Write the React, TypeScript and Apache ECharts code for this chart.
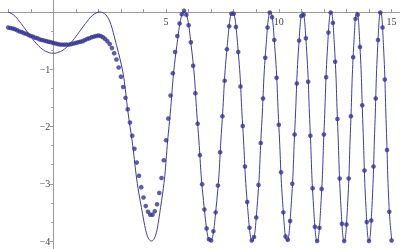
import React, { useEffect, useRef } from 'react';
import * as echarts from 'echarts';

// Solid curve (peaks at 0, troughs at -4)
const lineX = [
  -2, -1.75, -1.5, -1.25, -1, -0.75, -0.5, -0.25, 0, 0.25, 0.5, 0.75, 1, 1.25, 1.5, 1.75,
  2.049, 2.808, 3.402, 3.907, 4.353, 4.758, 5.131, 5.478,
  5.805, 6.115, 6.409, 6.691, 6.961, 7.221, 7.472, 7.714,
  7.95, 8.178, 8.401, 8.618, 8.829, 9.035, 9.237, 9.435,
  9.628, 9.818, 10.004, 10.186, 10.366, 10.542, 10.716, 10.886,
  11.054, 11.22, 11.383, 11.544, 11.703, 11.859, 12.014, 12.166,
  12.317, 12.466, 12.613, 12.758, 12.902, 13.044, 13.184, 13.323,
  13.461, 13.597, 13.732, 13.866, 13.998, 14.129, 14.259, 14.388,
  14.516, 14.642, 14.767, 14.892, 15.015,
];
const lineY = [
  0, -0.056, -0.165, -0.295, -0.43, -0.55, -0.645, -0.7, -0.72, -0.7, -0.645, -0.55, -0.43, -0.295, -0.165, -0.056,
  0, -0.586, -2, -3.414, -4, -3.414, -2, -0.586,
  0, -0.586, -2, -3.414, -4, -3.414, -2, -0.586,
  0, -0.586, -2, -3.414, -4, -3.414, -2, -0.586,
  0, -0.586, -2, -3.414, -4, -3.414, -2, -0.586,
  0, -0.586, -2, -3.414, -4, -3.414, -2, -0.586,
  0, -0.586, -2, -3.414, -4, -3.414, -2, -0.586,
  0, -0.586, -2, -3.414, -4, -3.414, -2, -0.586,
  0, -0.586, -2, -3.414, -4,
];

// Dots
const dotX = [
  -2.0, -1.9, -1.8, -1.7, -1.6, -1.5, -1.4, -1.3, -1.2, -1.1, -1.0,
  -0.9, -0.8, -0.7, -0.6, -0.5, -0.4, -0.3, -0.2, -0.1, 0.0,
  0.1, 0.2, 0.3, 0.4, 0.5, 0.6, 0.7, 0.8, 0.9, 1.0,
  1.1, 1.2, 1.3, 1.4, 1.5, 1.6, 1.7, 1.8, 1.9, 2.0,
  2.1, 2.2, 2.3, 2.4, 2.5, 2.6, 2.7, 2.8, 2.9, 3.0,
  3.1, 3.2, 3.3, 3.4, 3.5, 3.6, 3.7, 3.8, 3.9, 4.0,
  4.1, 4.2, 4.3, 4.4, 4.5, 4.6, 4.7, 4.8, 4.9, 5.0,
  5.1, 5.2, 5.3, 5.4, 5.5, 5.6, 5.7, 5.8, 5.9, 6.0,
  6.1, 6.2, 6.3, 6.4, 6.5, 6.6, 6.7, 6.8, 6.9, 7.0,
  7.1, 7.2, 7.3, 7.4, 7.5, 7.6, 7.7, 7.8, 7.9, 8.0,
  8.1, 8.2, 8.3, 8.4, 8.5, 8.6, 8.7, 8.8, 8.9, 9.0,
  9.1, 9.2, 9.3, 9.4, 9.5, 9.6, 9.7, 9.8, 9.9, 10.0,
  10.1, 10.2, 10.3, 10.4, 10.5, 10.6, 10.7, 10.8, 10.9, 11.0,
  11.1, 11.2, 11.3, 11.4, 11.5, 11.6, 11.7, 11.8, 11.9, 12.0,
  12.1, 12.2, 12.3, 12.4, 12.5, 12.6, 12.7, 12.8, 12.9, 13.0,
  13.1, 13.2, 13.3, 13.4, 13.5, 13.6, 13.7, 13.8, 13.9, 14.0,
  14.1, 14.2, 14.3, 14.4, 14.5, 14.6, 14.7, 14.8, 14.9, 15.0,
];
const dotY = [
  -0.27, -0.28, -0.29, -0.3, -0.32, -0.34, -0.35, -0.37, -0.38, -0.4, -0.42,
  -0.43, -0.45, -0.46, -0.48, -0.49, -0.5, -0.51, -0.52, -0.53, -0.54,
  -0.55, -0.56, -0.57, -0.57, -0.57, -0.57, -0.57, -0.56, -0.55, -0.54,
  -0.53, -0.52, -0.51, -0.49, -0.47, -0.46, -0.44, -0.43, -0.42, -0.41,
  -0.42, -0.44, -0.47, -0.51, -0.56, -0.63, -0.72, -0.83, -0.97, -1.13,
  -1.31, -1.5, -1.7, -1.93, -2.16, -2.39, -2.63, -2.86, -3.06, -3.24,
  -3.39, -3.49, -3.54, -3.54, -3.48, -3.36, -3.16, -2.9, -2.59, -2.24,
  -1.86, -1.46, -1.07, -0.7, -0.42, -0.2, -0.04, 0.02, -0.05, -0.23,
  -0.53, -0.94, -1.42, -1.95, -2.5, -3.01, -3.45, -3.78, -3.97, -3.99,
  -3.83, -3.5, -3.03, -2.45, -1.82, -1.2, -0.65, -0.25, -0.03, -0.03,
  -0.26, -0.7, -1.3, -1.99, -2.7, -3.32, -3.77, -3.99, -3.93, -3.59,
  -3.02, -2.29, -1.51, -0.8, -0.27, -0.01, -0.09, -0.49, -1.15, -1.97,
  -2.8, -3.5, -3.92, -3.98, -3.65, -3.0, -2.14, -1.25, -0.5, -0.07,
  -0.05, -0.46, -1.22, -2.16, -3.08, -3.75, -4.0, -3.77, -3.09, -2.14,
  -1.14, -0.36, -0.01, -0.19, -0.87, -1.87, -2.91, -3.7, -4.0, -3.71,
  -2.91, -1.82, -0.79, -0.12, -0.05, -0.61, -1.63, -2.77, -3.67, -4.0,
  -3.64, -2.7, -1.51, -0.49, -0.01, -0.27, -1.18, -2.41, -3.49, -3.99,
];

const xTickLabels = [5, 10, 15];
const yTickLabels: Record<number, string> = { [-1]: '−1', [-2]: '−2', [-3]: '−3', [-4]: '−4' };

const AXIS = '#9a9a9a';
const TEXT = '#444';
const CURVE = '#3d3d99';
const DOT = '#35358f';

export default function App() {
  const ref = useRef<HTMLDivElement>(null);
  useEffect(() => {
    const chart = echarts.init(ref.current!, null, { renderer: 'svg' });
    const lineData = lineX.map((x, i) => [x, lineY[i]]);
    const dotData = dotX.map((x, i) => [x, dotY[i]]);
    chart.setOption({
      animation: false,
      grid: { left: 5.65, right: 5.9, top: 4.75, bottom: 1.75, containLabel: false },
      xAxis: {
        type: 'value',
        position: 'top',
        offset: -57.25, // from y = 1 (grid top) down to y = 0
        min: -3,
        max: 16,
        interval: 1,
        axisLine: { onZero: false, lineStyle: { color: AXIS, width: 1 } },
        axisTick: { inside: false, length: 3, lineStyle: { color: AXIS } },
        axisLabel: {
          inside: true,
          formatter: (v: number) => (xTickLabels.includes(v) ? String(v) : ''),
          margin: 4,
          fontFamily: 'Liberation Serif',
          fontSize: 10,
          color: TEXT,
        },
        splitLine: { show: false },
      },
      yAxis: {
        type: 'value',
        position: 'left',
        offset: -67.65, // from x = -3 (grid left) across to x = 0
        min: -5,
        max: 1,
        interval: 1,
        axisLine: { onZero: false, lineStyle: { color: AXIS, width: 1 } },
        axisTick: { length: 3.5, lineStyle: { color: AXIS } },
        minorTick: { show: true, splitNumber: 3, length: 2, lineStyle: { color: AXIS } },
        axisLabel: {
          formatter: (v: number) => yTickLabels[v] ?? '',
          margin: 3,
          fontFamily: 'Liberation Serif',
          fontSize: 10,
          color: TEXT,
        },
        splitLine: { show: false },
        minorSplitLine: { show: false },
      },
      series: [
        {
          type: 'line',
          data: lineData,
          showSymbol: false,
          smooth: 0.5,
          clip: false,
          lineStyle: { color: CURVE, width: 1 },
          z: 2,
        },
        {
          type: 'scatter',
          data: dotData,
          symbolSize: 4.6,
          clip: false,
          itemStyle: { color: DOT },
          z: 3,
        },
      ],
    });
    return () => chart.dispose();
  }, []);
  // the chart is larger than the window so that both axes run across the whole picture
  return <div ref={ref} style={{ position: 'fixed', left: -20, top: -50, width: 440, height: 350 }} />;
}
